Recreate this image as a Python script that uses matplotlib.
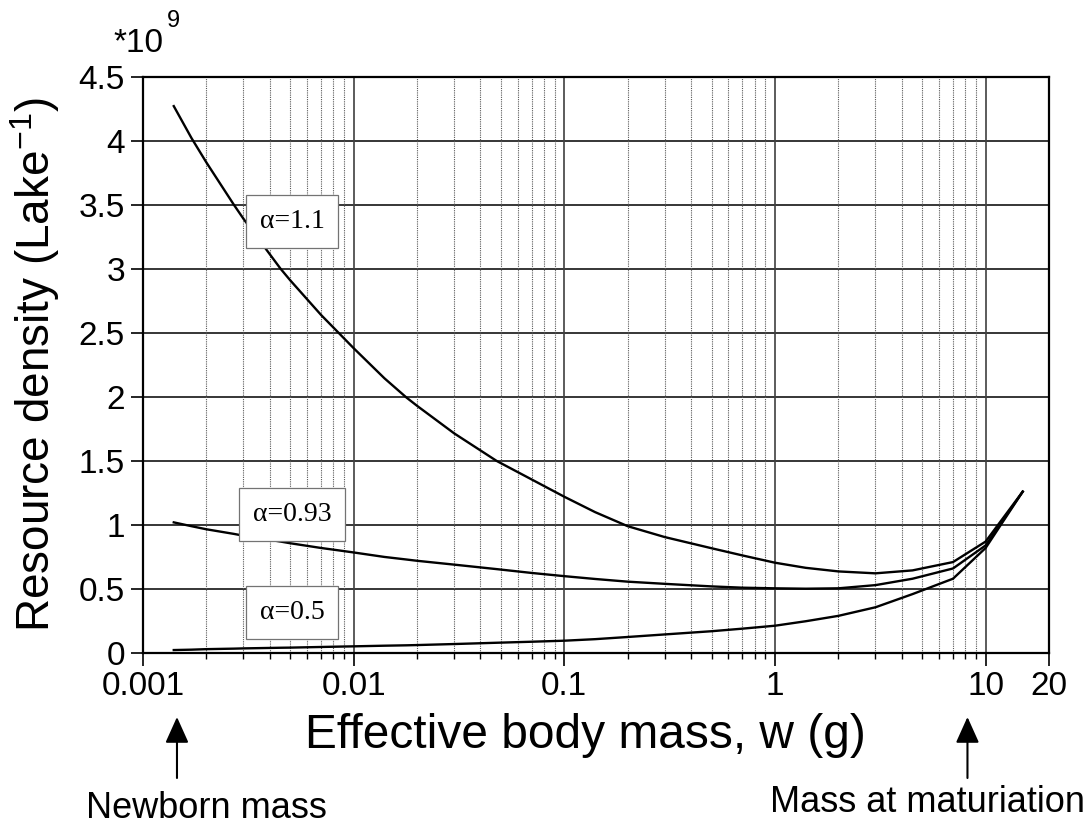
import numpy as np
import matplotlib
matplotlib.use('Agg')
import matplotlib.pyplot as plt
from matplotlib.ticker import FixedLocator, NullFormatter
import matplotlib.transforms as mtransforms

plt.rcParams['font.family'] = ['Liberation Sans', 'DejaVu Sans']
plt.rcParams['mathtext.fontset'] = 'custom'
plt.rcParams['mathtext.rm'] = 'Liberation Sans'
plt.rcParams['mathtext.it'] = 'Liberation Sans:italic'

# effective body mass (g)
w = [0.0014, 0.0017, 0.002, 0.0027, 0.003, 0.0045, 0.005, 0.007, 0.0086,
     0.01, 0.014, 0.0178, 0.02, 0.03, 0.0477, 0.07, 0.1, 0.14, 0.2, 0.3,
     0.5, 0.7, 1, 1.4, 2, 3, 4.5, 7, 10, 15]

# resource density, units of 1e9 per lake
dens_a11 = [4.27, 4.02, 3.83, 3.5, 3.39, 3.0, 2.91, 2.64, 2.49,
            2.38, 2.145, 1.995, 1.93, 1.715, 1.5, 1.355, 1.22, 1.1, 0.99, 0.905,
            0.818, 0.762, 0.705, 0.665, 0.637, 0.622, 0.645, 0.71, 0.87, 1.26]
dens_a093 = [1.02, 0.99, 0.966, 0.93, 0.916, 0.87, 0.857, 0.82, 0.80,
             0.785, 0.75, 0.73, 0.72, 0.69, 0.655, 0.625, 0.60, 0.578, 0.557, 0.54,
             0.52, 0.51, 0.505, 0.502, 0.505, 0.53, 0.58, 0.66, 0.84, 1.26]
dens_a05 = [0.023, 0.026, 0.03, 0.034, 0.036, 0.041, 0.042, 0.047, 0.05,
            0.052, 0.057, 0.06, 0.062, 0.07, 0.08, 0.088, 0.096, 0.108, 0.125, 0.145,
            0.17, 0.19, 0.213, 0.248, 0.29, 0.357, 0.46, 0.58, 0.82, 1.26]

curve_labels = ['\u03b1=1.1', '\u03b1=0.93', '\u03b1=0.5']
label_pos = [(0.0051, 3.37), (0.0051, 1.083), (0.0051, 0.318)]

xticks = [0.001, 0.01, 0.1, 1, 10, 20]
xticklabels = ['0.001', '0.01', '0.1', '1', '10', '20']
yticks = [0, 0.5, 1, 1.5, 2, 2.5, 3, 3.5, 4, 4.5]
yticklabels = ['0', '0.5', '1', '1.5', '2', '2.5', '3', '3.5', '4', '4.5']

newborn_mass = 0.00145
maturation_mass = 8.2

fig = plt.figure(figsize=(10.89, 8.27), dpi=100)
ax = fig.add_axes([0.1313, 0.2104, 0.832, 0.6969])

for dens in (dens_a11, dens_a093, dens_a05):
    ax.plot(w, dens, color='black', lw=1.7, zorder=3)

ax.set_xscale('log')
ax.set_xlim(0.001, 20)
ax.set_ylim(0, 4.5)

ax.xaxis.set_major_locator(FixedLocator(xticks))
ax.set_xticklabels(xticklabels)
minors = [k * 10.0 ** e for e in range(-3, 1) for k in range(2, 10)]
ax.xaxis.set_minor_locator(FixedLocator(minors))
ax.xaxis.set_minor_formatter(NullFormatter())
ax.set_yticks(yticks)
ax.set_yticklabels(yticklabels)

# grid: solid horizontals, solid decades, dotted minor verticals
for y in yticks[1:-1]:
    ax.axhline(y, color='black', lw=1.1, zorder=1)
for x in xticks[1:-1]:
    ax.axvline(x, color='0.25', lw=1.2, zorder=1)
for x in minors:
    ax.axvline(x, color='0.35', lw=0.8, ls=(0, (1, 1)), zorder=1)

ax.tick_params(axis='both', which='major', direction='out', length=9,
               width=1.2, labelsize=24, pad=4)
ax.tick_params(axis='x', which='minor', direction='out', length=4, width=1)
for sp in ax.spines.values():
    sp.set_linewidth(1.6)

ax.set_xlabel('Effective body mass, w (g)', fontsize=34.5, labelpad=8)
ax.xaxis.label.set_x(0.488)
ax.set_ylabel('Resource density (Lake$^{\\mathregular{-1}}$)', fontsize=33,
              labelpad=12)

for txt, (x, y) in zip(curve_labels, label_pos):
    ax.text(x, y, txt, ha='center', va='center', fontsize=20,
            family=['Liberation Serif', 'DejaVu Serif'], zorder=5,
            bbox=dict(boxstyle='square,pad=0.5', fc='white', ec='0.45',
                      lw=0.9))

# scale factor above the y axis
fig.text(113 / 1089, 1 - 52 / 827, '*10', fontsize=24, va='baseline')
fig.text(167 / 1089, 1 - 27 / 827, '9', fontsize=17, va='baseline')

# arrows marking newborn and maturation mass
trans = mtransforms.blended_transform_factory(ax.transData, fig.transFigure)
for xm in (newborn_mass, maturation_mass):
    ax.annotate('', xy=(xm, 1 - 717 / 827), xytext=(xm, 1 - 778 / 827),
                xycoords=trans, textcoords=trans, annotation_clip=False,
                arrowprops=dict(arrowstyle='-|>,head_length=0.8,head_width=0.36',
                                mutation_scale=20, color='black', lw=1.5,
                                shrinkA=0, shrinkB=0))

fig.text(206 / 1089, 1 - 818 / 827, 'Newborn mass', fontsize=26,
         ha='center', va='baseline')
fig.text(928 / 1089, 1 - 812 / 827, 'Mass at maturiation', fontsize=26,
         ha='center', va='baseline')

fig.savefig('out.png', dpi=100)
